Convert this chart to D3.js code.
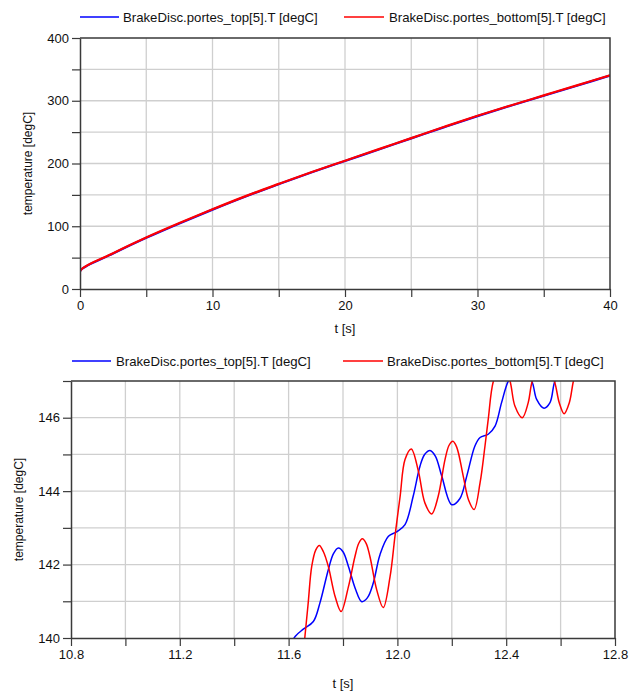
<!DOCTYPE html>
<html><head><meta charset="utf-8">
<script src="https://cdn.jsdelivr.net/npm/d3@7"></script>
<style>
body{margin:0;background:#fff}
text{font-family:"Liberation Sans",Arial,sans-serif;fill:#111}
</style>
</head><body>
<svg id="c" width="636" height="691"></svg>
<script>
// ---------- data ----------
const seriesNames = ["BrakeDisc.portes_top[5].T [degC]", "BrakeDisc.portes_bottom[5].T [degC]"];
const seriesColors = ["#0000ff", "#ff0000"];

// top panel (0..40 s)
const topTime        = [0, 0.05, 2.5, 5, 7.5, 10, 12.5, 15, 17.5, 20, 22.5, 25, 27.5, 30, 32.5, 35, 37.5, 40];
const topTempTopSurf = [22, 30, 56.5, 81.5, 104.5, 126.5, 147.5, 167, 186, 204, 222, 240, 258, 275.5, 292, 308, 324, 340];
const topTempBotSurf = [22, 30, 57, 82, 105, 127, 148, 167.5, 186.5, 204.5, 222.5, 240.5, 258.5, 276, 292.5, 308.5, 324.5, 340.5];
const topXTicks  = [0, 5, 10, 15, 20, 25, 30, 35, 40];
const topXLabels = [0, 10, 20, 30, 40];
const topYTicks  = [0, 50, 100, 150, 200, 250, 300, 350, 400];
const topYLabels = [0, 100, 200, 300, 400];

// bottom panel (zoom 10.8..12.8 s)
const botTimeTopSurf = [11.55, 11.624, 11.654, 11.691, 11.715, 11.746, 11.765, 11.783, 11.800, 11.820, 11.845, 11.869, 11.890, 11.911, 11.936, 11.967, 11.997, 12.028, 12.058, 12.083, 12.100, 12.120, 12.140, 12.163, 12.200, 12.230, 12.255, 12.285, 12.304, 12.334, 12.359, 12.383, 12.408, 12.450, 12.494, 12.512, 12.539, 12.561, 12.579, 12.620, 12.66];
const botTempTopSurf = [139.0, 140.04, 140.24, 140.45, 140.95, 141.86, 142.30, 142.45, 142.35, 141.95, 141.35, 140.99, 141.10, 141.49, 142.27, 142.77, 142.89, 143.09, 143.86, 144.68, 145.00, 145.11, 144.95, 144.41, 143.63, 143.80, 144.41, 145.23, 145.46, 145.55, 145.77, 146.41, 147.0, 147.45, 147.0, 146.50, 146.26, 146.41, 147.0, 147.6, 148.0];
const botTimeBotSurf = [11.650, 11.660, 11.672, 11.685, 11.700, 11.713, 11.728, 11.746, 11.771, 11.793, 11.820, 11.844, 11.858, 11.871, 11.885, 11.899, 11.924, 11.948, 11.973, 11.991, 12.010, 12.028, 12.051, 12.077, 12.101, 12.126, 12.150, 12.175, 12.190, 12.204, 12.218, 12.242, 12.262, 12.282, 12.304, 12.322, 12.334, 12.353, 12.385, 12.414, 12.432, 12.459, 12.481, 12.496, 12.537, 12.577, 12.595, 12.613, 12.632, 12.647, 12.68];
const botTempBotSurf = [139.3, 140.04, 140.95, 141.95, 142.40, 142.52, 142.35, 141.95, 141.13, 140.72, 141.40, 142.22, 142.58, 142.70, 142.58, 142.22, 141.31, 140.83, 141.67, 142.77, 143.86, 144.86, 145.15, 144.55, 143.68, 143.38, 143.86, 144.86, 145.25, 145.36, 145.20, 144.41, 143.75, 143.50, 144.23, 145.23, 145.96, 147.0, 147.55, 147.0, 146.32, 146.00, 146.41, 147.0, 147.65, 147.0, 146.41, 146.11, 146.41, 147.0, 148.0];
const botXTicks  = [10.8, 11.0, 11.2, 11.4, 11.6, 11.8, 12.0, 12.2, 12.4, 12.6, 12.8];
const botXLabels = [10.8, 11.2, 11.6, 12.0, 12.4, 12.8];
const botYTicks  = [140, 141, 142, 143, 144, 145, 146, 147];
const botYLabels = [140, 142, 144, 146];

const xTitle = "t [s]";
const yTitle = "temperature [degC]";

// ---------- drawing ----------
const svg = d3.select("#c");

function panel(cfg) {
  const x = d3.scaleLinear().domain(cfg.xDomain).range([cfg.left, cfg.right]);
  const y = d3.scaleLinear().domain(cfg.yDomain).range([cfg.bottom, cfg.top]);
  const g = svg.append("g");
  const clipId = "clip" + cfg.id;
  svg.append("clipPath").attr("id", clipId).append("rect")
    .attr("x", cfg.left).attr("y", cfg.top)
    .attr("width", cfg.right - cfg.left).attr("height", cfg.bottom - cfg.top);

  // grid
  g.append("g").selectAll("line").data(cfg.xTicks.slice(1, -1)).join("line")
    .attr("x1", d => x(d)).attr("x2", d => x(d))
    .attr("y1", cfg.top).attr("y2", cfg.bottom)
    .attr("stroke", "#cfcfcf").attr("stroke-width", 1.3);
  g.append("g").selectAll("line").data(cfg.yTicks.slice(1, -1)).join("line")
    .attr("y1", d => y(d)).attr("y2", d => y(d))
    .attr("x1", cfg.left).attr("x2", cfg.right)
    .attr("stroke", "#cfcfcf").attr("stroke-width", 1.3);

  // series
  const lg = g.append("g").attr("clip-path", `url(#${clipId})`);
  cfg.series.forEach((s, i) => {
    const pts = s.t.map((t, k) => [t, s.v[k]]);
    lg.append("path").datum(pts)
      .attr("fill", "none").attr("stroke", seriesColors[i])
      .attr("stroke-width", cfg.lineWidth)
      .attr("d", d3.line().x(d => x(d[0])).y(d => y(d[1])).curve(d3.curveCatmullRom.alpha(0.5)));
  });

  // frame (top/right)
  g.append("path")
    .attr("d", `M${cfg.left},${cfg.top}H${cfg.right}V${cfg.bottom}`)
    .attr("fill", "none").attr("stroke", "#3a3a3a").attr("stroke-width", 1.5);

  // axes
  const fmt = cfg.fmt;
  const ax = g.append("g").attr("transform", `translate(0,${cfg.bottom})`)
    .call(d3.axisBottom(x).tickValues(cfg.xTicks).tickSize(8).tickSizeOuter(0).tickPadding(4)
      .tickFormat(d => cfg.xLabels.some(v => Math.abs(v - d) < 1e-9) ? fmt(d) : ""));
  const ay = g.append("g").attr("transform", `translate(${cfg.left},0)`)
    .call(d3.axisLeft(y).tickValues(cfg.yTicks).tickSize(8).tickSizeOuter(0).tickPadding(3)
      .tickFormat(d => cfg.yLabels.some(v => Math.abs(v - d) < 1e-9) ? String(d) : ""));
  [ax, ay].forEach(a => {
    a.select(".domain").attr("stroke", "#3a3a3a").attr("stroke-width", 1.5);
    a.selectAll(".tick line").attr("stroke", "#3a3a3a").attr("stroke-width", 1.2);
    a.selectAll(".tick text").attr("font-size", 13).attr("fill", "#111")
      .attr("font-family", '"Liberation Sans",Arial,sans-serif');
  });

  // titles
  g.append("text").attr("x", (cfg.left + cfg.right) / 2).attr("y", cfg.xTitleY)
    .attr("text-anchor", "middle").attr("font-size", 13).text(xTitle);
  g.append("text").attr("transform", `translate(${cfg.yTitleX},${(cfg.top + cfg.bottom) / 2}) rotate(-90)`)
    .attr("text-anchor", "middle").attr("font-size", 12).text(yTitle);

  // legend
  cfg.legend.forEach((L, i) => {
    g.append("line").attr("x1", L.x1).attr("x2", L.x2).attr("y1", cfg.legendY).attr("y2", cfg.legendY)
      .attr("stroke", seriesColors[i]).attr("stroke-width", 1.5);
    g.append("text").attr("x", L.tx).attr("y", cfg.legendY + 4.5).attr("font-size", 13.2).text(seriesNames[i]);
  });
}

panel({
  id: 1, xDomain: [0, 40], yDomain: [0, 400],
  left: 80, right: 610, top: 38, bottom: 289,
  xTicks: topXTicks, xLabels: topXLabels, yTicks: topYTicks, yLabels: topYLabels,
  fmt: d => String(d), lineWidth: 2.2,
  series: [{t: topTime, v: topTempTopSurf}, {t: topTime, v: topTempBotSurf}],
  xTitleY: 333, yTitleX: 32, legendY: 17,
  legend: [{x1: 80, x2: 119, tx: 123}, {x1: 344, x2: 384, tx: 389}]
});

panel({
  id: 2, xDomain: [10.8, 12.8], yDomain: [140, 147],
  left: 71, right: 615, top: 381, bottom: 638,
  xTicks: botXTicks, xLabels: botXLabels, yTicks: botYTicks, yLabels: botYLabels,
  fmt: d => d.toFixed(1), lineWidth: 1.5,
  series: [{t: botTimeTopSurf, v: botTempTopSurf}, {t: botTimeBotSurf, v: botTempBotSurf}],
  xTitleY: 688, yTitleX: 23, legendY: 361,
  legend: [{x1: 72, x2: 111, tx: 116}, {x1: 343, x2: 383, tx: 387}]
});
</script>
</body></html>
